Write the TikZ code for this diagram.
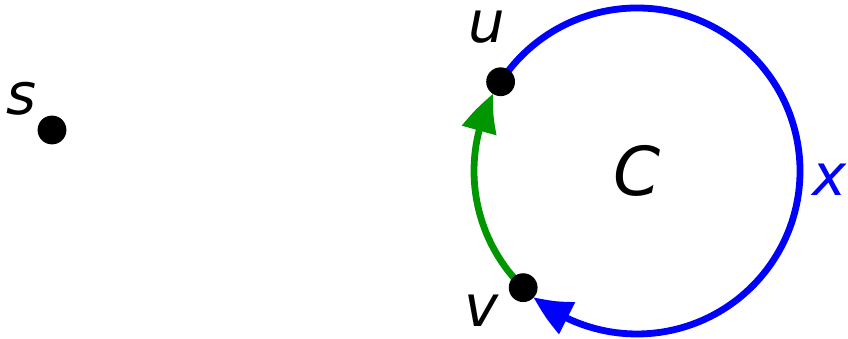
\documentclass[tikz,border=0pt]{standalone}
\usepackage{fontspec}
\setmainfont{DejaVu Sans}
\usetikzlibrary{arrows.meta,bending,backgrounds}
\definecolor{cycgreen}{RGB}{0,150,0}
\begin{document}
\begin{tikzpicture}[x=0.025cm, y=0.025cm,
  dot/.style={circle, fill=black, inner sep=0pt, minimum size=0.72cm},
  lbl/.style={font=\fontsize{41}{48}\selectfont\itshape, inner sep=0pt},
  arcline/.style={line width=0.17cm, -{Triangle[length=1.0cm, width=0.85cm, bend]}}]
\useasboundingbox (0,0) rectangle (848,339);
%--- vertices ---
\coordinate (ctr) at (637,168);
\node[dot] (s) at (52,209) {};
\node[dot] (u) at ([shift={(146.8:163)}]ctr) {};
\node[dot] (v) at ([shift={(225.7:163)}]ctr) {};
%--- labels ---
\node[lbl] (slbl) at (22,240) {s};
\node[lbl] (ulbl) at (487,312) {u};
\node[lbl] (vlbl) at (482,28) {v};
\node[lbl, blue] (xlbl) at (830,159) {x};
\node[lbl, font=\fontsize{48}{56}\selectfont\itshape] (clbl) at (ctr) {C};
%--- cycle C (arcs stop at the dot's rim) ---
\begin{scope}[on background layer]
  \draw[arcline, blue] (u.center) arc[start angle=146.8, end angle=-129.4, radius=163];
  \draw[arcline, cycgreen] (v.center) arc[start angle=225.7, end angle=151.7, radius=163];
\end{scope}
\end{tikzpicture}
\end{document}
